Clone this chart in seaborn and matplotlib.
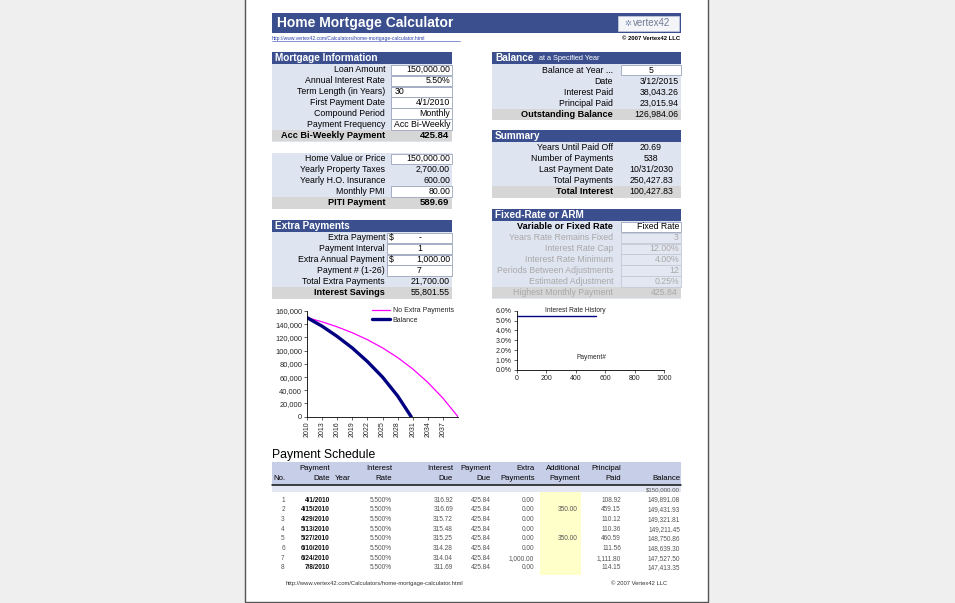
import matplotlib
matplotlib.use("Agg")
import matplotlib.pyplot as plt
from matplotlib.patches import Rectangle
from matplotlib.ticker import FuncFormatter
import seaborn as sns
import pandas as pd

sns.set_theme(style="white")
plt.rcParams['font.family'] = ['Liberation Sans', 'DejaVu Sans']

# ---------------- data ----------------
mort_labels = ["Loan Amount", "Annual Interest Rate", "Term Length (in Years)", "First Payment Date",
               "Compound Period", "Payment Frequency"]
mort_values = ["150,000.00", "5.50%", "30", "4/1/2010", "Monthly", "Acc Bi-Weekly"]
mort_total = ("Acc Bi-Weekly Payment", "425.84")

piti_labels = ["Home Value or Price", "Yearly Property Taxes", "Yearly H.O. Insurance", "Monthly PMI"]
piti_values = ["150,000.00", "2,700.00", "600.00", "80.00"]
piti_total = ("PITI Payment", "589.69")

extra_labels = ["Extra Payment", "Payment Interval", "Extra Annual Payment", "Payment # (1-26)",
                "Total Extra Payments"]
extra_values = ["-", "1", "1,000.00", "7", "21,700.00"]
extra_total = ("Interest Savings", "55,801.55")

bal_labels = ["Balance at Year ...", "Date", "Interest Paid", "Principal Paid"]
bal_values = ["5", "3/12/2015", "38,043.26", "23,015.94"]
bal_total = ("Outstanding Balance", "126,984.06")

sum_labels = ["Years Until Paid Off", "Number of Payments", "Last Payment Date", "Total Payments"]
sum_values = ["20.69", "538", "10/31/2030", "250,427.83"]
sum_total = ("Total Interest", "100,427.83")

arm_labels = ["Variable or Fixed Rate", "Years Rate Remains Fixed", "Interest Rate Cap",
              "Interest Rate Minimum", "Periods Between Adjustments", "Estimated Adjustment"]
arm_values = ["Fixed Rate", "3", "12.00%", "4.00%", "12", "0.25%"]
arm_total = ("Highest Monthly Payment", "425.84")

# balance chart
noextra_years = [2010, 2013, 2016, 2019, 2022, 2025, 2028, 2031, 2034, 2037, 2040]
noextra_bal = [150000, 143600, 136000, 127100, 116600, 104200, 89600, 72300, 52000, 28100, 0]
acc_years = [2010, 2013, 2016, 2019, 2022, 2025, 2028, 2030.7]
acc_bal = [150000, 137000, 121500, 104000, 83500, 60000, 31500, 0]
year_ticks = [2010, 2013, 2016, 2019, 2022, 2025, 2028, 2031, 2034, 2037]
bal_ticks = [0, 20000, 40000, 60000, 80000, 100000, 120000, 140000, 160000]

# interest-rate history chart
rate_payment = [0, 538]
rate_pct = [5.5, 5.5]
rate_ticks = [0.0, 1.0, 2.0, 3.0, 4.0, 5.0, 6.0]
pay_ticks = [0, 200, 400, 600, 800, 1000]

# payment schedule
sched_head1 = ["", "Payment", "", "Interest", "Interest", "Payment", "Extra", "Additional", "Principal", ""]
sched_head2 = ["No.", "Date", "Year", "Rate", "Due", "Due", "Payments", "Payment", "Paid", "Balance"]
sched_no = ["1", "2", "3", "4", "5", "6", "7", "8"]
sched_date = ["4/1/2010", "4/15/2010", "4/29/2010", "5/13/2010", "5/27/2010", "6/10/2010", "6/24/2010", "7/8/2010"]
sched_rate = ["5.500%"] * 8
sched_int = ["316.92", "316.69", "315.72", "315.48", "315.25", "314.28", "314.04", "311.69"]
sched_pay = ["425.84"] * 8
sched_extra = ["0.00", "0.00", "0.00", "0.00", "0.00", "0.00", "1,000.00", "0.00"]
sched_add = ["", "350.00", "", "", "350.00", "", "", ""]
sched_prin = ["108.92", "459.15", "110.12", "110.36", "460.59", "111.56", "1,111.80", "114.15"]
sched_bal = ["149,891.08", "149,431.93", "149,321.81", "149,211.45", "148,750.86", "148,639.30",
             "147,527.50", "147,413.35"]

# ---------------- style ----------------
HDR = "#3b4f8e"
BODY = "#dfe4f1"
GRAY = "#d6d6d6"
BOXEDGE = "#9aa3bb"

W, H = 955, 603
fig = plt.figure(figsize=(W / 100, H / 100), dpi=100, facecolor="#efefef")
ov = fig.add_axes([0, 0, 1, 1])
ov.set_xlim(0, W)
ov.set_ylim(H, 0)
ov.axis("off")


def rect(x0, y0, x1, y1, fc, ec="none", lw=0.6, z=1):
    ov.add_patch(Rectangle((x0, y0), x1 - x0, y1 - y0, facecolor=fc, edgecolor=ec, linewidth=lw, zorder=z))


def txt(x, y, s, size=6.3, ha="right", color="black", weight="normal", z=5, **kw):
    ov.text(x, y, s, fontsize=size, ha=ha, va="center", color=color, fontweight=weight, zorder=z, **kw)


# page
rect(245, -2, 708, 602, "white", ec="#555555", lw=1.0, z=0)

# title bar
rect(272, 13, 681, 33, HDR)
txt(277, 23.3, "Home Mortgage Calculator", size=10, ha="left", color="white", weight="bold")
rect(618, 15.5, 679, 31, "#f4f5f8", ec="#c9cde0", lw=0.5, z=2)
txt(633, 23.5, "vertex42", size=7, ha="left", color="#6f7b92")
txt(624, 23.5, "✲", size=6, ha="left", color="#7f8fb0", family=["DejaVu Sans"])
txt(272, 38.5, "http://www.vertex42.com/Calculators/home-mortgage-calculator.html", size=3.6, ha="left",
    color="#2a3fa8")
ov.plot([272, 460], [40.6, 40.6], color="#2a3fa8", lw=0.4, zorder=5)
txt(680, 38.5, "© 2007 Vertex42 LLC", size=4.2, ha="right", weight="bold")


def block(x0, x1, ytop, title, labels, values, total, row_h, lab_x, box_x0, val_mode,
          header=True, sub=None, label_colors=None, val_colors=None, box_list=None, bold_first=False,
          total_val_x=None, total_color="black", box_fc="white", box_ec=BOXEDGE):
    y = ytop
    if header:
        rect(x0, y, x1, y + 12, HDR, z=2)
        txt(x0 + 3, y + 6.2, title, size=7.2, ha="left", color="white", weight="bold")
        if sub:
            txt(x0 + 47, y + 6.8, sub, size=5.3, ha="left", color="white")
        y += 12
    n = len(labels) + 1
    rect(x0, y, x1, y + n * row_h + 1.5, BODY, z=1)
    for i, (lab, val) in enumerate(zip(labels, values)):
        cy = y + (i + 0.5) * row_h + 0.8
        lc = label_colors[i] if label_colors else "black"
        vc = val_colors[i] if val_colors else "black"
        w = "bold" if (bold_first and i == 0) else "normal"
        txt(lab_x, cy, lab, ha="right", color=lc, weight=w, size=6.6 if w == "bold" else 6.3)
        if box_list is None or i in box_list:
            fc = box_fc if not (isinstance(box_fc, list)) else box_fc[i]
            ec = box_ec if not (isinstance(box_ec, list)) else box_ec[i]
            rect(box_x0, cy - row_h / 2 + 0.3, x1, cy + row_h / 2 - 0.3, fc, ec=ec, lw=0.6, z=3)
        mode = val_mode[i] if isinstance(val_mode, list) else val_mode
        if mode == "right":
            txt(x1 - 2, cy, val, ha="right", color=vc)
        elif mode == "left":
            txt(box_x0 + 4, cy, val, ha="left", color=vc)
        elif mode == "center":
            txt((box_x0 + x1) / 2, cy, val, ha="center", color=vc)
        elif mode == "dollar":
            txt(box_x0 + 2, cy, "$", ha="left", color=vc)
            if val == "-":
                txt((box_x0 + x1) / 2 + 1, cy, val, ha="center", color=vc)
            else:
                txt(x1 - 2, cy, val, ha="right", color=vc)
        elif isinstance(mode, (int, float)):
            txt(mode, cy, val, ha="center", color=vc)
    cy = y + (n - 0.5) * row_h + 0.8
    rect(x0, cy - row_h / 2, x1, cy + row_h / 2 + 0.5, GRAY, z=2)
    tb = "bold" if total_color == "black" else "normal"
    txt(lab_x, cy, total[0], ha="right", weight=tb, color=total_color, size=6.6 if tb == "bold" else 6.3)
    tv = total_val_x if total_val_x else x1 - 3
    if isinstance(tv, tuple):
        txt(tv[0], cy, total[1], ha="center", color=total_color)
    else:
        big = title in ("Mortgage Information", "")
        txt(tv, cy, total[1], ha="right", weight=("bold" if big else "normal"),
            color=total_color, size=6.8 if big else 6.3)


RH = 10.95
block(272, 452, 51.5, "Mortgage Information", mort_labels, mort_values, mort_total, RH, 385, 391,
      ["right", "right", "left", "right", "right", "right"])
block(272, 452, 152.5, "", piti_labels, piti_values, piti_total, RH, 385, 391, "right",
      header=False, box_list=[0, 3])
block(272, 452, 219.5, "Extra Payments", extra_labels, extra_values, extra_total, RH, 385, 387,
      ["dollar", "center", "dollar", "center", "right"], box_list=[0, 1, 2, 3], total_val_x=450)

block(492, 681, 52, "Balance", bal_labels, bal_values, bal_total, RH, 613, 621,
      ["center", "right", "right", "right"], sub="at a Specified Year", box_list=[0])
block(492, 681, 129.5, "Summary", sum_labels, sum_values, sum_total, RH, 613, 621,
      651, box_list=[], total_val_x=(651,))
lg = "#a9a9a9"
block(492, 681, 208.5, "Fixed-Rate or ARM", arm_labels, arm_values, arm_total, RH, 613, 621,
      "right", label_colors=["black"] + [lg] * 5, val_colors=["black"] + [lg] * 5,
      bold_first=True, total_color=lg,
      box_fc=["white"] + ["#e3e7f2"] * 5, box_ec=[BOXEDGE] + ["#c4c9d6"] * 5, total_val_x=678)

# ---------------- payment schedule ----------------
txt(272, 455, "Payment Schedule", size=8.8, ha="left", color="#000000")
rect(272, 461.5, 681, 484.5, "#c7cee7", z=1)
ov.plot([272, 681], [484.8, 484.8], color="#111111", lw=1.1, zorder=4)
rect(272, 485.3, 681, 492.3, "#e3e7f3", z=1)
txt(680, 489.8, "$150,000.00", size=4.4, ha="right", color="#555555")
rect(540, 492.3, 581, 575, "#ffffca", z=1)

col_right = [None, 330, None, 392, 453, 491, 535, 580, 621, 680]
for i, (h1, h2) in enumerate(zip(sched_head1, sched_head2)):
    if i == 0:
        txt(273, 478.5, h2, size=5.6, ha="left")
        continue
    if i == 2:
        txt(335, 478.5, h2, size=5.6, ha="left")
        continue
    if h1:
        txt(col_right[i], 468, h1, size=5.6, ha="right")
    txt(col_right[i], 478.5, h2, size=5.6, ha="right")

row_y0, row_dy = 500, 9.7
DS = 4.7
DC = "#555555"
for r in range(len(sched_no)):
    y = row_y0 + r * row_dy
    txt(283, y, sched_no[r], size=DS, ha="center", color=DC)
    txt(330, y, sched_date[r], size=DS, ha="right", color="#111111", weight="bold")
    txt(392, y, sched_rate[r], size=DS, ha="right", color=DC)
    txt(453, y, sched_int[r], size=DS, ha="right", color=DC)
    txt(491, y, sched_pay[r], size=DS, ha="right", color=DC)
    txt(534, y, sched_extra[r], size=DS, ha="right", color=DC)
    if sched_add[r]:
        txt(578, y, sched_add[r], size=DS, ha="right", color=DC)
    txt(621, y, sched_prin[r], size=DS, ha="right", color=DC)
    txt(680, y, sched_bal[r], size=DS, ha="right", color=DC)

txt(286, 583.5, "http://www.vertex42.com/Calculators/home-mortgage-calculator.html", size=4.2, ha="left",
    color="#333333")
txt(667, 583.5, "© 2007 Vertex42 LLC", size=4.2, ha="right", color="#333333")


# ---------------- charts ----------------
def fig_axes(x0, y0, x1, y1):
    return fig.add_axes([x0 / W, 1 - y1 / H, (x1 - x0) / W, (y1 - y0) / H])


ax = fig_axes(307, 311, 458, 416.7)
ax.set_facecolor("none")
df1 = pd.DataFrame({"year": noextra_years, "bal": noextra_bal})
df2 = pd.DataFrame({"year": acc_years, "bal": acc_bal})
sns.lineplot(data=df1, x="year", y="bal", color="#ff00ff", lw=0.9, ax=ax, label="No Extra Payments")
sns.lineplot(data=df2, x="year", y="bal", color="#000080", lw=2.4, ax=ax, label="Balance")
ax.set_xlim(2010, 2040)
ax.set_ylim(0, 160000)
ax.set_xticks(year_ticks)
ax.set_yticks(bal_ticks)
ax.yaxis.set_major_formatter(FuncFormatter(lambda v, p: f"{int(v):,}"))
ax.tick_params(axis="x", labelsize=5.0, rotation=90, length=2, width=0.5, pad=1.5, direction="out",
               bottom=True)
ax.tick_params(axis="y", labelsize=5.4, length=2, width=0.5, pad=1.5, direction="out", left=True)
ax.set_xlabel("")
ax.set_ylabel("")
for s in ["top", "right"]:
    ax.spines[s].set_visible(False)
for s in ["left", "bottom"]:
    ax.spines[s].set_color("black")
    ax.spines[s].set_linewidth(0.6)
ax.legend(loc="upper right", bbox_to_anchor=(0.99, 1.06), frameon=False, fontsize=5.0,
          handlelength=2.6, handletextpad=0.4, labelspacing=0.35, borderaxespad=0)

ax2 = fig_axes(516.7, 310.7, 664, 370)
ax2.set_facecolor("none")
df3 = pd.DataFrame({"payment": rate_payment, "rate": rate_pct})
sns.lineplot(data=df3, x="payment", y="rate", color="#000080", lw=1.0, ax=ax2)
ax2.set_xlim(0, 1000)
ax2.set_ylim(0, 6.0)
ax2.set_xticks(pay_ticks)
ax2.set_yticks(rate_ticks)
ax2.yaxis.set_major_formatter(FuncFormatter(lambda v, p: f"{v:.1f}%"))
ax2.tick_params(axis="both", labelsize=5.0, length=2, width=0.5, pad=1.5, direction="out",
                left=True, bottom=True)
ax2.set_xlabel("")
ax2.set_ylabel("")
for s in ["top", "right"]:
    ax2.spines[s].set_visible(False)
for s in ["left", "bottom"]:
    ax2.spines[s].set_color("black")
    ax2.spines[s].set_linewidth(0.6)
ax2.text(400, 6.05, "Interest Rate History", fontsize=4.8, ha="center", va="center")
ax2.text(505, 1.3, "Payment#", fontsize=4.8, ha="center", va="center")

fig.savefig("out.png", dpi=100, facecolor=fig.get_facecolor())
